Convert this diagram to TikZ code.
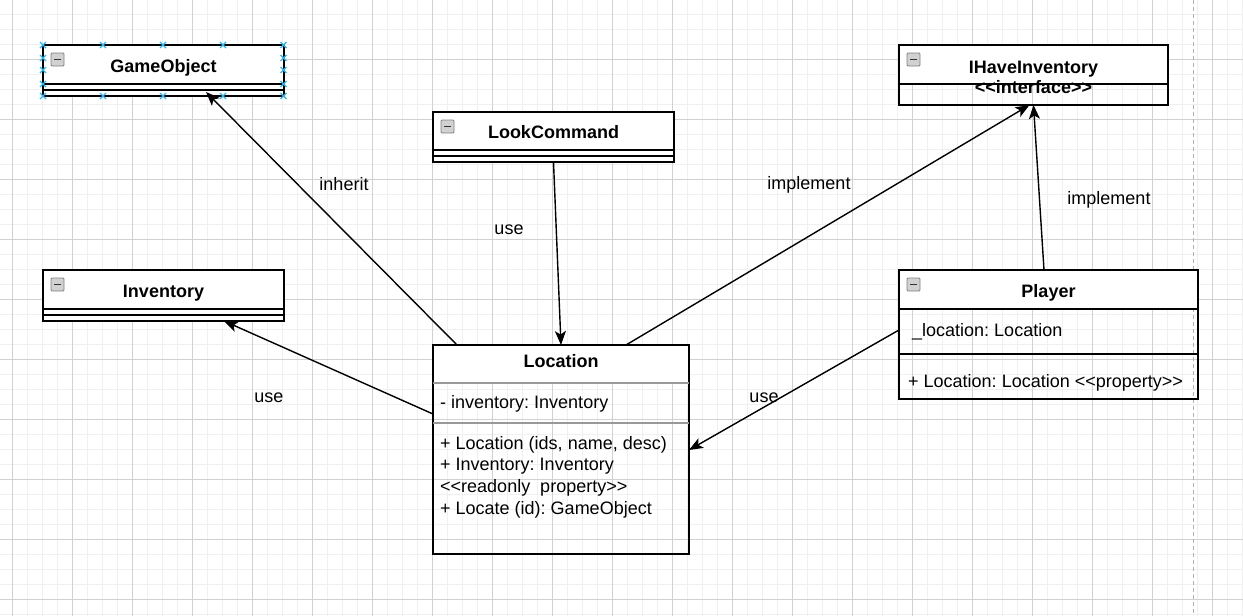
\documentclass[tikz,border=0pt]{standalone}
\usepackage{fontspec}
\setmainfont{Liberation Sans}
\usetikzlibrary{arrows.meta}
\definecolor{handleblue}{RGB}{41,182,242}
\newcommand\dlt{<\kern0pt<}
\newcommand\dgt{>\kern0pt>}
\tikzset{
  cls/.style={draw=none, inner sep=0pt, outer sep=0pt, anchor=north west},
  ttl/.style={font=\frenchspacing\bfseries\fontsize{18}{21}\selectfont, anchor=base, inner sep=0pt},
  txt/.style={font=\frenchspacing\fontsize{18}{21.7}\selectfont, anchor=base west, inner sep=0pt},
  lbl/.style={font=\frenchspacing\fontsize{18}{21}\selectfont, anchor=base, inner sep=0pt},
  conn/.style={line width=1.4pt, -{Stealth[length=14pt,width=11pt,inset=3.5pt]}},
  border/.style={line width=1.4pt},
  sepline/.style={line width=1.3pt},
  graysep/.style={line width=1.1pt, draw=black!40},
  minorgrid/.style={line width=0.8pt, draw=black!6},
  majorgrid/.style={line width=0.8pt, draw=black!18},
  handle/.style={line width=1.2pt, draw=handleblue},
  icon/.style={fill=black!18, draw=black!50, line width=0.8pt, rounded corners=1pt},
}
\newcommand\clsicon[1]{%
  \draw[icon] ([xshift=8pt,yshift=-8pt]#1.north west) rectangle +(13,13);
  \draw[line width=1.8pt, black!80] ([xshift=11pt,yshift=-14.5pt]#1.north west) -- +(7,0);}
\newcommand\xhandle[2]{\draw[handle] (#1-3,#2-3) -- (#1+3,#2+3) (#1-3,#2+3) -- (#1+3,#2-3);}
\begin{document}
\begin{tikzpicture}[x=1pt,y=-1pt]
\useasboundingbox (0,0) rectangle (1243,616);
\fill[white] (0,0) rectangle (1243,616);
% grid
\foreach \x in {12,27,...,1242} \draw[minorgrid] (\x,0) -- (\x,616);
\foreach \y in {14,29,...,614} \draw[minorgrid] (0,\y) -- (1243,\y);
\foreach \x in {12,72,...,1212} \draw[majorgrid] (\x,0) -- (\x,616);
\foreach \y in {59,119,...,599} \draw[majorgrid] (0,\y) -- (1243,\y);
% page break
\draw[line width=1pt, black!30, dash pattern=on 4pt off 3pt] (1193,0) -- (1193,616);

% nodes (shapes)
\node[cls, minimum width=241pt, minimum height=51pt] (go) at (43,45) {};
\node[cls, minimum width=269pt, minimum height=60pt] (ihi) at (899,45) {};
\node[cls, minimum width=241pt, minimum height=50pt] (lc) at (433,112) {};
\node[cls, minimum width=241pt, minimum height=51pt] (inv) at (43,270) {};
\node[cls, minimum width=256pt, minimum height=209pt] (loc) at (433,345) {};
\node[cls, minimum width=299pt, minimum height=129pt] (pl) at (899,270) {};

% fills
\fill[white] (go.north west) rectangle (go.south east);
\fill[white] (lc.north west) rectangle (lc.south east);
\fill[white] (inv.north west) rectangle (inv.south east);
\fill[white] (ihi.north west) rectangle ([yshift=-39pt]ihi.north east);
\fill[white] (loc.north west) rectangle ([yshift=-38pt]loc.north east);
\fill[white] (pl.north west) rectangle ([yshift=-39pt]pl.north east);

% borders and separators
\draw[border] (go.north west) rectangle (go.south east);
\draw[sepline] ([yshift=-39pt]go.north west) -- ([yshift=-39pt]go.north east);
\draw[sepline] ([yshift=-45pt]go.north west) -- ([yshift=-45pt]go.north east);

\draw[border] (ihi.north west) rectangle (ihi.south east);
\draw[sepline] ([yshift=-39pt]ihi.north west) -- ([yshift=-39pt]ihi.north east);

\draw[border] (lc.north west) rectangle (lc.south east);
\draw[sepline] ([yshift=-38pt]lc.north west) -- ([yshift=-38pt]lc.north east);
\draw[sepline] ([yshift=-44pt]lc.north west) -- ([yshift=-44pt]lc.north east);

\draw[border] (inv.north west) rectangle (inv.south east);
\draw[sepline] ([yshift=-39pt]inv.north west) -- ([yshift=-39pt]inv.north east);
\draw[sepline] ([yshift=-45pt]inv.north west) -- ([yshift=-45pt]inv.north east);

\draw[border] (loc.north west) rectangle (loc.south east);
\draw[graysep] ([yshift=-38pt]loc.north west) -- ([yshift=-38pt]loc.north east);
\draw[graysep] ([yshift=-78pt]loc.north west) -- ([yshift=-78pt]loc.north east);

\draw[border] (pl.north west) rectangle (pl.south east);
\draw[sepline] ([yshift=-39pt]pl.north west) -- ([yshift=-39pt]pl.north east);
\draw[sepline] ([yshift=-84pt]pl.north west) -- ([yshift=-84pt]pl.north east);

% icons
\clsicon{go}
\clsicon{ihi}
\clsicon{lc}
\clsicon{inv}
\clsicon{pl}

% titles
\node[ttl] (goT) at ([yshift=-27pt]go.north) {GameObject};
\node[ttl] (ihiT) at ([yshift=-28pt]ihi.north) {IHaveInventory};
\node[ttl] (ihiS) at ([yshift=-48.5pt]ihi.north) {\dlt interface\dgt};
\node[ttl] (lcT) at ([yshift=-26pt]lc.north) {LookCommand};
\node[ttl] (invT) at ([yshift=-27pt]inv.north) {Inventory};
\node[ttl] (locT) at ([yshift=-22pt]loc.north) {Location};
\node[ttl] (plT) at ([yshift=-27pt]pl.north) {Player};

% members
\node[txt] (locA) at ([xshift=7pt,yshift=-63pt]loc.north west) {- inventory: Inventory};
\node[txt] (locM) at ([xshift=7pt,yshift=-104pt]loc.north west)
  {\begin{tabular}[t]{@{}l@{}}+ Location (ids, name, desc)\\+ Inventory: Inventory\\\dlt readonly\ \ property\dgt\\+ Locate (id): GameObject\end{tabular}};
\node[txt] (plA) at ([xshift=13pt,yshift=-66pt]pl.north west) {\_location: Location};
\node[txt] (plM) at ([xshift=9pt,yshift=-117pt]pl.north west) {+ Location: Location \dlt property\dgt};

% selection handles on GameObject
\foreach \hx in {43,103,163,223,283.5} {\xhandle{\hx}{45}\xhandle{\hx}{96}}
\foreach \hy in {58,70,84} {\xhandle{43}{\hy}\xhandle{283.5}{\hy}}

% connectors
\draw[conn] ([xshift=24pt]loc.north west) -- ([xshift=163pt,yshift=4pt]go.south west);
\draw[conn] (lc.south) -- (loc.north);
\draw[conn] ([xshift=193pt]loc.north west) -- ([xshift=-4pt]ihi.south);
\draw[conn] ([xshift=-4.5pt]pl.north) -- (ihi.south);
\draw[conn] ([yshift=-69pt]loc.north west) -- ([xshift=181pt]inv.south west);
\draw[conn] ([yshift=-60pt]pl.north west) -- ([yshift=-105pt]loc.north east);

% labels
\node[lbl] (l1) at (344,190) {inherit};
\node[lbl] (l2) at (509,234) {use};
\node[lbl] (l3) at (809,189) {implement};
\node[lbl] (l4) at (1109,204) {implement};
\node[lbl] (l5) at (269,402) {use};
\node[lbl] (l6) at (764,402) {use};
\end{tikzpicture}
\end{document}
